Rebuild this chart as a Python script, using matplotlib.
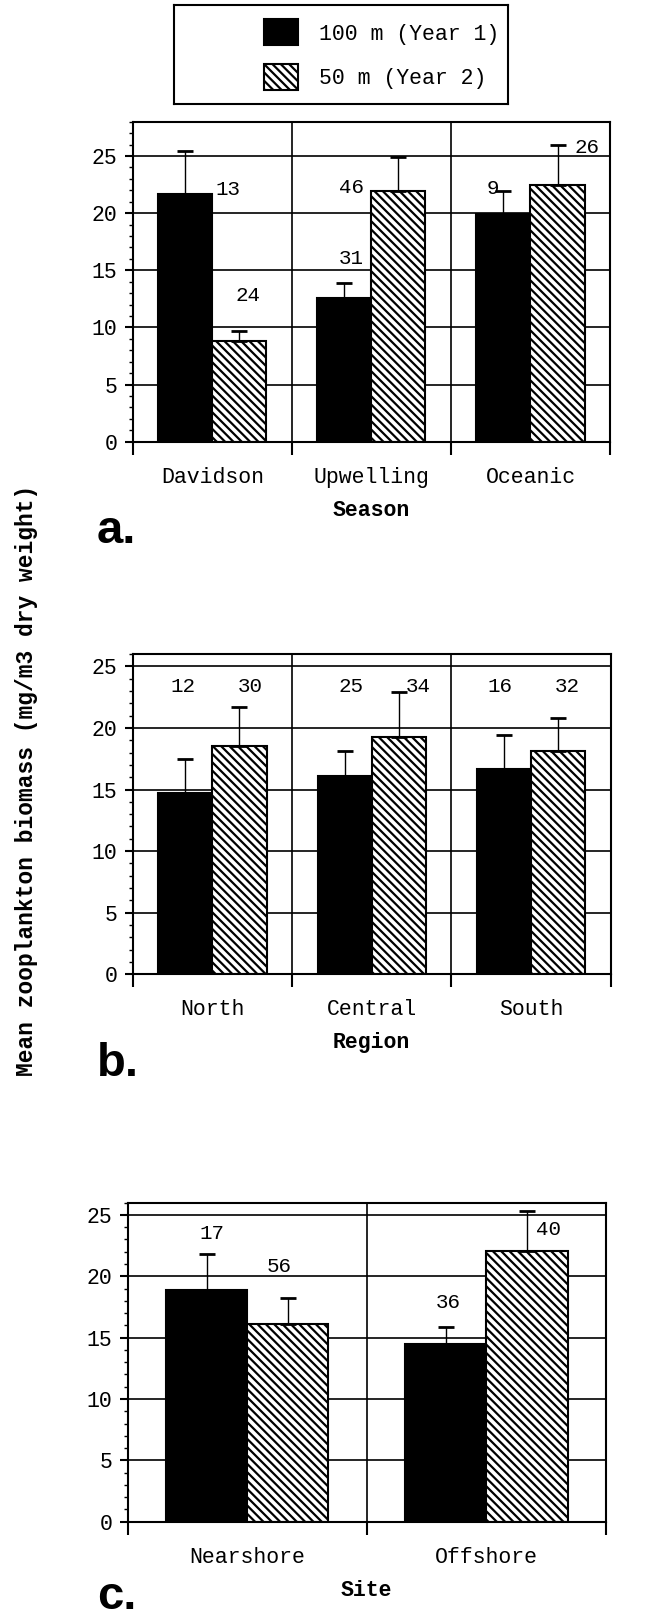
import numpy as np
import matplotlib.pyplot as plt
from matplotlib.patches import Patch
from matplotlib.ticker import MultipleLocator, FixedLocator

plt.rcParams['font.family'] = ['Liberation Mono', 'DejaVu Sans Mono']
plt.rcParams['hatch.linewidth'] = 1.6

# panel a - season
season_cats = ['Davidson', 'Upwelling', 'Oceanic']
season_y1 = [21.7, 12.6, 19.9]
season_y1_err = [3.7, 1.3, 2.0]
season_y2 = [8.8, 21.9, 22.5]
season_y2_err = [0.9, 3.0, 3.5]
season_n1 = [13, 31, 9]
season_n2 = [24, 46, 26]

# panel b - region
region_cats = ['North', 'Central', 'South']
region_y1 = [14.7, 16.1, 16.7]
region_y1_err = [2.8, 2.0, 2.7]
region_y2 = [18.5, 19.3, 18.1]
region_y2_err = [3.2, 3.6, 2.7]
region_n1 = [12, 25, 16]
region_n2 = [30, 34, 32]

# panel c - site
site_cats = ['Nearshore', 'Offshore']
site_y1 = [18.9, 14.5]
site_y1_err = [2.9, 1.4]
site_y2 = [16.1, 22.1]
site_y2_err = [2.1, 3.2]
site_n1 = [17, 36]
site_n2 = [56, 40]

# where the n labels sit (offset from group centre, height)
season_lbl1 = [(0.10, 22.1), (-0.127, 16.0), (-0.238, 22.15)]
season_lbl2 = [(0.227, 12.8), (-0.127, 22.2), (0.355, 25.7)]
region_lbl1 = [(-0.183, 23.4), (-0.13, 23.4), (-0.195, 23.4)]
region_lbl2 = [(0.236, 23.4), (0.293, 23.4), (0.224, 23.4)]
site_lbl1 = [(-0.149, 23.45), (-0.161, 17.85)]
site_lbl2 = [(0.134, 20.8), (0.26, 23.8)]

label1 = '100 m (Year 1)'
label2 = '50 m (Year 2)'
HATCH = '\\\\\\\\'
W = 0.34


def draw_panel(ax, cats, y1, e1, y2, e2, n1, n2, pos1, pos2, ymax, xlabel):
    x = np.arange(len(cats))
    ax.bar(x - W / 2, y1, W, color='black', edgecolor='black', linewidth=1.5,
           yerr=[np.zeros(len(x)), e1], capsize=6,
           error_kw=dict(elinewidth=1.0, capthick=2.0, ecolor='black'))
    ax.bar(x + W / 2, y2, W, color='white', edgecolor='black', linewidth=1.5,
           hatch=HATCH, yerr=[np.zeros(len(x)), e2], capsize=6,
           error_kw=dict(elinewidth=1.0, capthick=2.0, ecolor='black'))
    for i in range(len(x)):
        ax.text(x[i] + pos1[i][0], pos1[i][1], str(n1[i]), ha='center', va='center', fontsize=15)
        ax.text(x[i] + pos2[i][0], pos2[i][1], str(n2[i]), ha='center', va='center', fontsize=15)
    ax.set_xlim(-0.5, len(x) - 0.5)
    ax.set_ylim(0, ymax)
    ax.yaxis.set_major_locator(MultipleLocator(5))
    ax.yaxis.set_minor_locator(MultipleLocator(1))
    ax.xaxis.set_major_locator(FixedLocator(np.arange(len(x) + 1) - 0.5))
    ax.xaxis.set_minor_locator(FixedLocator(x))
    ax.set_xticklabels([], minor=False)
    ax.set_xticklabels(cats, minor=True, fontsize=15.5)
    ax.tick_params(axis='x', which='major', length=9, width=1.5, direction='out')
    ax.tick_params(axis='x', which='minor', length=0, pad=18)
    ax.tick_params(axis='y', which='major', length=6, width=1.5, labelsize=15.5, pad=5)
    ax.tick_params(axis='y', which='minor', length=3, width=1.0)
    ax.set_axisbelow(True)
    ax.grid(True, which='major', color='black', linewidth=1.2)
    for s in ax.spines.values():
        s.set_linewidth(1.5)
    ax.set_xlabel(xlabel, fontsize=15.5, fontweight='bold', labelpad=8.5)


fig = plt.figure(figsize=(6.56, 16.18), dpi=100)

ax_a = fig.add_axes([0.2023, 0.7270, 0.7276, 0.1978])
draw_panel(ax_a, season_cats, season_y1, season_y1_err, season_y2, season_y2_err,
           season_n1, season_n2, season_lbl1, season_lbl2, 28, 'Season')

ax_b = fig.add_axes([0.2023, 0.3978, 0.7287, 0.1980])
draw_panel(ax_b, region_cats, region_y1, region_y1_err, region_y2, region_y2_err,
           region_n1, region_n2, region_lbl1, region_lbl2, 26, 'Region')

ax_c = fig.add_axes([0.1947, 0.0595, 0.7287, 0.1972])
draw_panel(ax_c, site_cats, site_y1, site_y1_err, site_y2, site_y2_err,
           site_n1, site_n2, site_lbl1, site_lbl2, 26, 'Site')

# legend box
leg_ax = fig.add_axes([0.2652, 0.9357, 0.5091, 0.0612])
leg_ax.set_xticks([])
leg_ax.set_yticks([])
for s in leg_ax.spines.values():
    s.set_linewidth(1.5)
handles = [Patch(facecolor='black', edgecolor='black', linewidth=1.5),
           Patch(facecolor='white', edgecolor='black', linewidth=1.5, hatch=HATCH)]
leg_ax.legend(handles, [label1, label2], loc='center right', frameon=False,
              fontsize=15.5, handlelength=1.58, handleheight=1.49,
              labelspacing=0.84, handletextpad=1.0, borderaxespad=0.0)

# panel letters
for lab, ypx in [('a.', 543), ('b.', 1076), ('c.', 1609)]:
    fig.text(97 / 656, 1 - ypx / 1618, lab, fontsize=34, fontweight='bold',
             family='Liberation Sans', va='baseline', ha='left')

fig.text(27 / 656, 1 - 780 / 1618, 'Mean zooplankton biomass (mg/m3 dry weight)',
         rotation=90, ha='center', va='center', fontsize=16.5, fontweight='bold')

fig.savefig('out.png', dpi=100)
